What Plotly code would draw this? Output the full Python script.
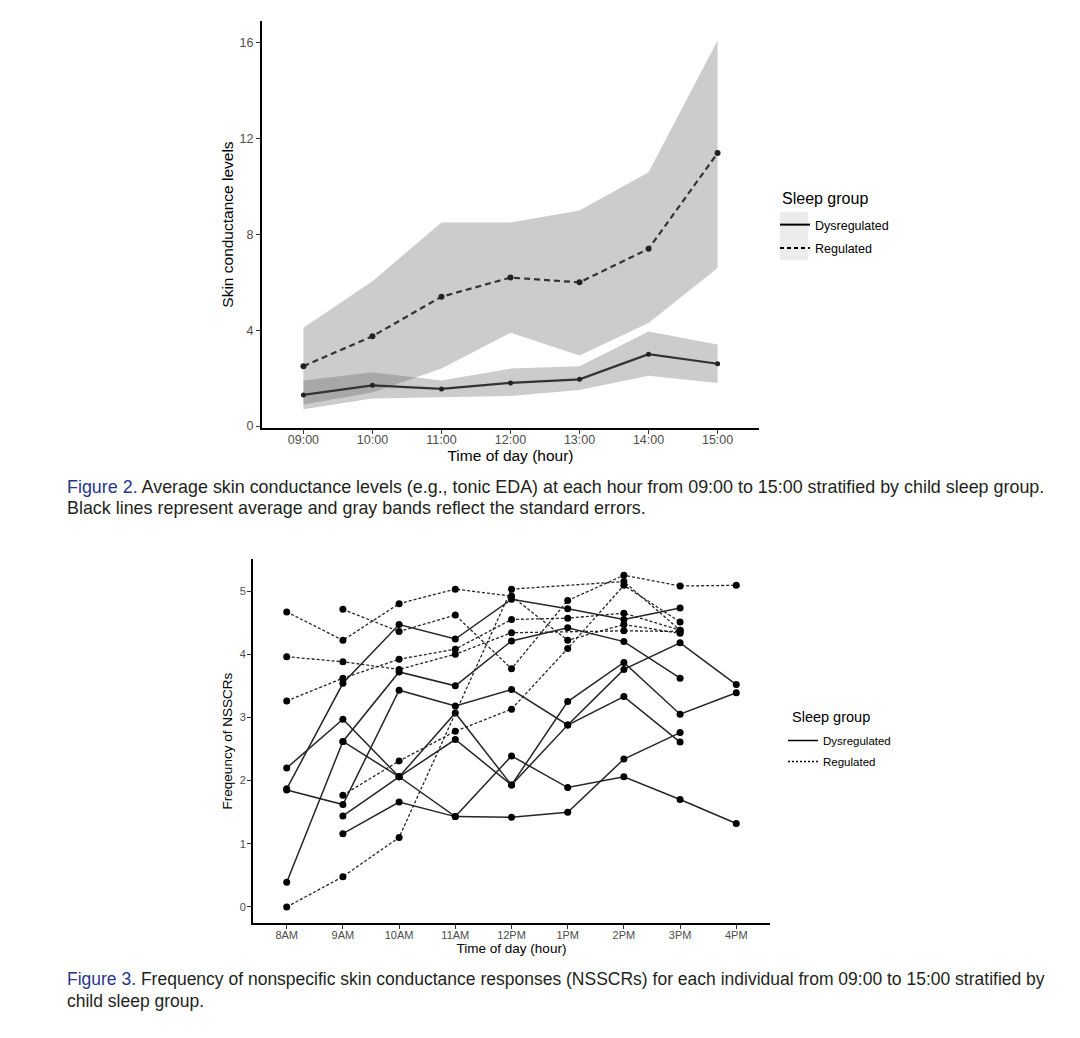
import plotly.graph_objects as go

# ---------------- data: Figure 2 (top) ----------------
hours_top = ["09:00", "10:00", "11:00", "12:00", "13:00", "14:00", "15:00"]
reg_mean = [2.5, 3.75, 5.4, 6.2, 6.0, 7.4, 11.4]
reg_lower = [0.9, 1.4, 2.4, 3.9, 2.95, 4.3, 6.6]
reg_upper = [4.1, 6.05, 8.5, 8.5, 9.0, 10.6, 16.1]
dys_mean = [1.3, 1.7, 1.55, 1.8, 1.95, 3.0, 2.6]
dys_lower = [0.7, 1.15, 1.2, 1.25, 1.5, 2.1, 1.8]
dys_upper = [1.9, 2.25, 1.9, 2.4, 2.5, 3.95, 3.4]
top_yticks = [0, 4, 8, 12, 16]

# ---------------- data: Figure 3 (bottom) ----------------
hours_bot = ["8AM", "9AM", "10AM", "11AM", "12PM", "1PM", "2PM", "3PM", "4PM"]
dys_A = [1.87, 3.54, 4.47, 4.24, 4.87, 4.72, 4.55, 4.73, None]
dys_B = [2.20, 2.97, 2.06, 1.43, 2.39, 1.89, 2.06, 1.70, 1.32]
dys_C = [1.85, 1.62, 3.43, 3.18, 3.44, 2.88, 3.76, 4.18, 3.52]
dys_D = [0.39, 2.62, 3.72, 3.50, 4.21, 4.42, 4.20, 3.62, None]
dys_E = [None, 2.62, 2.06, 3.07, 1.93, 3.25, 3.87, 3.05, 3.39]
dys_F = [None, 1.44, 2.06, 2.65, 1.93, 2.88, 3.33, 2.61, None]
dys_G = [None, 1.16, 1.66, 1.43, 1.42, 1.50, 2.34, 2.76, None]
reg_K = [4.67, 4.22, 4.80, 5.03, 4.92, 4.22, 4.47, 4.33, None]
reg_L = [None, 4.71, 4.36, 4.62, 3.77, 4.85, 5.25, 5.08, 5.09]
reg_H = [3.96, 3.88, 3.76, 4.00, 4.34, None, 4.37, 4.36, None]
reg_I = [3.26, 3.62, 3.92, 4.08, 4.55, 4.57, 4.65, 4.38, None]
reg_M = [None, 1.77, 2.31, 2.78, 3.13, 4.09, 5.09, 4.51, None]
reg_J = [0.00, 0.48, 1.10, None, 5.03, None, 5.15, 4.38, None]
bot_yticks = [0, 1, 2, 3, 4, 5]

dys_individuals = [dys_A, dys_B, dys_C, dys_D, dys_E, dys_F, dys_G]
reg_individuals = [reg_K, reg_L, reg_H, reg_I, reg_M, reg_J]

# page body has an 8px margin: figure is placed at (8, 8)
OFF = 8
W, H = 1080 - OFF, 1038 - OFF
FONT = "Liberation Sans, Arial, sans-serif"
LINE = "#333333"
BAND = "rgba(85,85,85,0.30)"


def px_x(p):
    return (p - OFF) / W


def px_y(p):
    return 1 - (p - OFF) / H


fig = go.Figure()

# ---- top ribbons ----
xt = list(range(len(hours_top)))
for lo, hi in [(reg_lower, reg_upper), (dys_lower, dys_upper)]:
    fig.add_trace(go.Scatter(
        x=xt + xt[::-1], y=hi + lo[::-1], fill="toself", fillcolor=BAND,
        line=dict(width=0), mode="lines", hoverinfo="skip", showlegend=False,
        xaxis="x", yaxis="y"))
# ---- top mean lines ----
fig.add_trace(go.Scatter(x=xt, y=reg_mean, mode="lines+markers",
                         line=dict(color=LINE, width=2.2, dash="6px,4px"),
                         marker=dict(color="#222222", size=6),
                         showlegend=False, xaxis="x", yaxis="y"))
fig.add_trace(go.Scatter(x=xt, y=dys_mean, mode="lines+markers",
                         line=dict(color=LINE, width=2.2),
                         marker=dict(color="#222222", size=5),
                         showlegend=False, xaxis="x", yaxis="y"))
# legend entries top
fig.add_trace(go.Scatter(x=[None], y=[None], mode="lines", name="Dysregulated",
                         line=dict(color="black", width=2), legend="legend",
                         legendgroup="d1", xaxis="x", yaxis="y"))
fig.add_trace(go.Scatter(x=[None], y=[None], mode="lines", name="Regulated",
                         line=dict(color="black", width=2, dash="4px,3px"),
                         legend="legend", legendgroup="r1", xaxis="x", yaxis="y"))

# ---- bottom individual lines ----
xb = list(range(len(hours_bot)))
for ys in dys_individuals:
    fig.add_trace(go.Scatter(x=xb, y=ys, mode="lines+markers", connectgaps=True,
                             line=dict(color="#262626", width=1.5),
                             marker=dict(color="black", size=7),
                             showlegend=False, xaxis="x2", yaxis="y2"))
for ys in reg_individuals:
    fig.add_trace(go.Scatter(x=xb, y=ys, mode="lines+markers", connectgaps=True,
                             line=dict(color="#262626", width=1.3, dash="3px,2px"),
                             marker=dict(color="black", size=7),
                             showlegend=False, xaxis="x2", yaxis="y2"))
fig.add_trace(go.Scatter(x=[None], y=[None], mode="lines", name="Dysregulated",
                         line=dict(color="black", width=1.5), legend="legend2",
                         legendgroup="d2", xaxis="x2", yaxis="y2"))
fig.add_trace(go.Scatter(x=[None], y=[None], mode="lines", name="Regulated",
                         line=dict(color="black", width=1.3, dash="2px,2px"),
                         legend="legend2", legendgroup="r2", xaxis="x2", yaxis="y2"))

axis_common = dict(showline=True, linecolor="black", linewidth=2, ticks="outside",
                   ticklen=4, tickcolor="#333333", tickwidth=1, showgrid=False,
                   zeroline=False, automargin=False)

fig.update_layout(
    width=W, height=H, margin=dict(l=0, r=0, t=0, b=0, autoexpand=False),
    paper_bgcolor="white", plot_bgcolor="white",
    font=dict(family=FONT, color="black"),
    xaxis=dict(axis_common, domain=[px_x(262), px_x(759)], range=[-0.6, 6.6],
               tickvals=xt, ticktext=hours_top, ticklabelstandoff=-5,
               tickfont=dict(size=12.5, family=FONT, color="#4d4d4d"),
               title=dict(text="Time of day (hour)", font=dict(size=15.5, family=FONT), standoff=2),
               anchor="y"),
    yaxis=dict(axis_common, domain=[px_y(427.7), px_y(21.4)], range=[-0.07, 16.9],
               tickvals=top_yticks, ticklabelstandoff=0,
               tickfont=dict(size=12.5, family=FONT, color="#4d4d4d"),
               title=dict(text="Skin conductance levels", font=dict(size=15.5, family=FONT), standoff=2),
               anchor="x"),
    xaxis2=dict(axis_common, domain=[px_x(253), px_x(770)], range=[-0.6, 8.6],
                tickvals=xb, ticktext=hours_bot, ticklabelstandoff=-4,
                tickfont=dict(size=11, family=FONT, color="#4d4d4d"),
                title=dict(text="Time of day (hour)", font=dict(size=13.5, family=FONT), standoff=0),
                anchor="y2"),
    yaxis2=dict(axis_common, domain=[px_y(923.4), px_y(558.8)], range=[-0.26, 5.51],
                tickvals=bot_yticks, ticklabelstandoff=-1,
                tickfont=dict(size=11, family=FONT, color="#4d4d4d"),
                title=dict(text="Freqeuncy of NSSCRs", font=dict(size=13.5, family=FONT), standoff=4),
                anchor="x2"),
    legend=dict(x=px_x(775), y=px_y(210), xanchor="left", yanchor="top",
                bgcolor="rgba(0,0,0,0)", tracegroupgap=4,
                font=dict(size=12.5, family=FONT)),
    legend2=dict(x=px_x(783), y=px_y(726), xanchor="left", yanchor="top",
                 bgcolor="rgba(0,0,0,0)", tracegroupgap=2,
                 font=dict(size=11.5, family=FONT)),
)

# legend titles
fig.add_annotation(text="Sleep group", x=px_x(780), y=px_y(198), xref="paper", yref="paper",
                   xanchor="left", yanchor="middle", showarrow=False,
                   font=dict(family=FONT, size=16, color="black"))
fig.add_annotation(text="Sleep group", x=px_x(790), y=px_y(717), xref="paper", yref="paper",
                   xanchor="left", yanchor="middle", showarrow=False,
                   font=dict(family=FONT, size=14.5, color="black"))

# light-gray legend key background (top legend, as in ggplot)
fig.add_shape(type="rect", xref="paper", yref="paper", layer="below",
              x0=px_x(780), x1=px_x(808), y0=px_y(260), y1=px_y(212),
              fillcolor="#ececec", line=dict(width=0))

# captions
CAP_FONT = "Liberation Sans Narrow, Liberation Sans, Arial, sans-serif"
BLUE = "#27348b"
captions = [
    (487, 17.9, f"<span style='color:{BLUE}'>Figure 2.</span> Average skin conductance levels (e.g., tonic EDA) at each hour from 09:00 to 15:00 stratified by child sleep group."),
    (508, 17.9, "Black lines represent average and gray bands reflect the standard errors."),
    (979, 17.5, f"<span style='color:{BLUE}'>Figure 3.</span> Frequency of nonspecific skin conductance responses (NSSCRs) for each individual from 09:00 to 15:00 stratified by"),
    (1001, 17.5, "child sleep group."),
]
for ypx, fs, txt in captions:
    fig.add_annotation(text=txt, x=px_x(65), y=px_y(ypx), xref="paper", yref="paper",
                       xanchor="left", yanchor="middle", showarrow=False,
                       font=dict(family=CAP_FONT, size=fs, color="#231f20"))

fig.write_html("out.html")
